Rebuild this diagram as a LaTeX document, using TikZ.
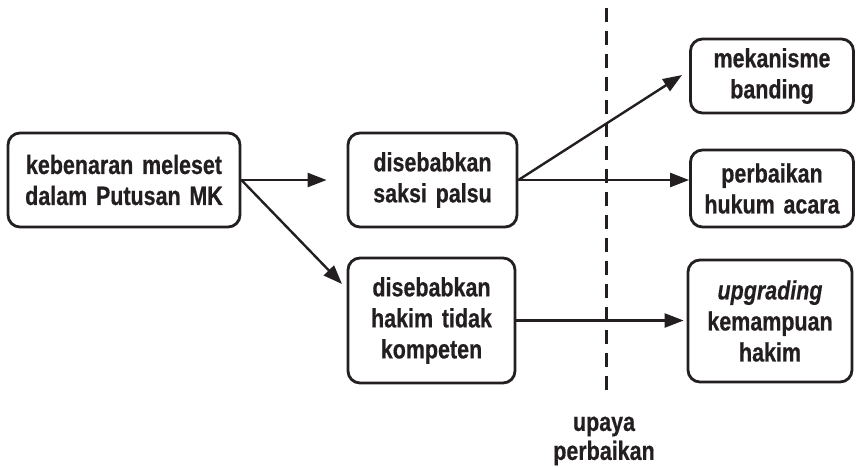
\documentclass[tikz,border=0pt]{standalone}
\usepackage{fontspec}
\setmainfont{Liberation Sans}[FakeStretch=0.81, BoldFeatures={FakeStretch=0.81, FakeBold=0.6}, BoldItalicFeatures={FakeStretch=0.81, FakeBold=0.3}]
\usetikzlibrary{arrows.meta}
\definecolor{ink}{HTML}{231F20}
\newcommand{\boxfont}{\fontsize{26.5}{31}\selectfont\bfseries\spaceskip=0.33em\relax}
\begin{document}
\begin{tikzpicture}[x=1pt,y=-1pt,
  box/.style={draw=ink, line width=2.8pt, rounded corners=12pt, align=center,
    inner sep=0pt, text=ink, font=\boxfont},
  arr/.style={draw=ink, line width=2.4pt, -{Triangle[length=19pt,width=14pt]}},
  lbl/.style={align=center, text=ink, font=\fontsize{26.5}{29}\selectfont\bfseries}]
\useasboundingbox (0,0) rectangle (856,467);
\node[box, minimum width=232pt, minimum height=94pt] (A) at (124,180) {kebenaran meleset\\dalam Putusan MK};
\node[box, minimum width=169pt, minimum height=94pt] (B) at (432.5,180) {disebabkan\\saksi palsu};
\node[box, minimum width=167pt, minimum height=125pt] (C) at (431.5,320.5) {disebabkan\\hakim tidak\\kompeten};
\node[box, minimum width=163pt, minimum height=74pt] (D) at (772,76) {mekanisme\\banding};
\node[box, minimum width=163pt, minimum height=77pt] (E) at (772,188.5) {perbaikan\\hukum acara};
\node[box, minimum width=164pt, minimum height=122pt] (F) at (770,321) {\itshape upgrading\\kemampuan\\hakim};
\coordinate (top) at (606,8);
\coordinate (bot) at (606,398);
\draw[draw=ink, line width=3pt, dash pattern=on 14pt off 9pt] (top) -- (bot);
\node[lbl] (L) at (604,441) {upaya\\perbaikan};
\coordinate (c1) at (342,284);
\coordinate (d1) at (682,75);
\draw[arr, shorten >=20pt] (A.east) -- (B.west);
\draw[arr] (A.east) -- (c1);
\draw[arr] (B.east) -- (d1);
\draw[arr] (B.east) -- (B.east -| E.west);
\draw[arr, shorten >=3pt] (C.east) -- (C.east -| F.west);
\end{tikzpicture}
\end{document}
